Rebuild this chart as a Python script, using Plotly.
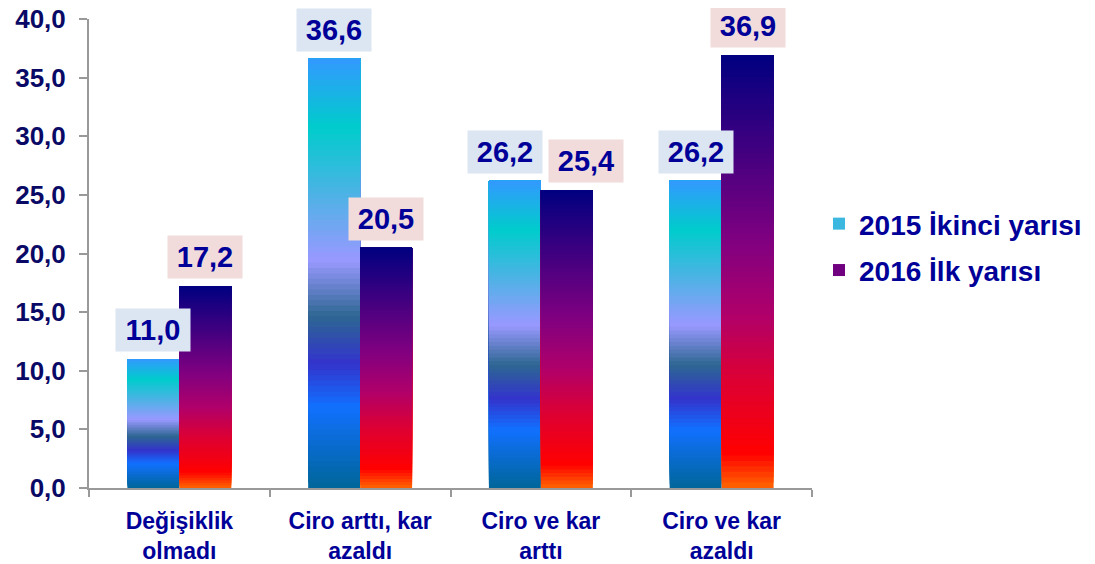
import numpy as np
import plotly.graph_objects as go

categories = ["Değişiklik<br>olmadı", "Ciro arttı, kar<br>azaldı", "Ciro ve kar<br>arttı", "Ciro ve kar<br>azaldı"]
series_names = ["2015 İkinci yarısı", "2016 İlk yarısı"]
values_2015 = [11.0, 36.6, 26.2, 26.2]
values_2016 = [17.2, 20.5, 25.4, 36.9]
y_ticks = [0, 5, 10, 15, 20, 25, 30, 35, 40]

# gradient stops (fraction of bar height from bottom, colour)
grad_2015 = [(0.00, "#006699"), (0.19, "#1170FF"), (0.29, "#3333CC"), (0.40, "#2E6792"),
             (0.53, "#9999FF"), (0.84, "#00CCCC"), (1.00, "#3399FF")]
grad_2016 = [(0.00, "#FF6600"), (0.08, "#FF0000"), (0.25, "#DD0033"), (0.40, "#B0006A"),
             (0.57, "#800080"), (1.00, "#000080")]
label_bg = ["#DCE6F2", "#F2DCDB"]
legend_frac = [0.72, 0.62]
# horizontal nudges of the value labels (px), per series / category
label_xshift = [[0, 0, -10, 0], [0, 0, 19, 0]]

N_SEG = 80
TXT = "#000099"
FONT = "Liberation Sans, Arial"


def hex2rgb(h):
    h = h.lstrip("#")
    return np.array([int(h[i:i + 2], 16) for i in (0, 2, 4)], dtype=float)


def interp(stops, f):
    xs = [s[0] for s in stops]
    cols = np.array([hex2rgb(s[1]) for s in stops])
    r = np.interp(f, xs, cols[:, 0])
    g = np.interp(f, xs, cols[:, 1])
    b = np.interp(f, xs, cols[:, 2])
    return "rgb(%d,%d,%d)" % (round(r), round(g), round(b))


fig = go.Figure()
for si, (vals, grad, name) in enumerate([(values_2015, grad_2015, series_names[0]),
                                          (values_2016, grad_2016, series_names[1])]):
    v = np.array(vals)
    leg_k = int(legend_frac[si] * N_SEG)
    for k in range(N_SEG):
        f = (k + 0.5) / N_SEG
        # each segment spans from its own start up to the bar top; later ones cover the upper part
        fig.add_trace(go.Bar(
            x=categories, y=v * (1 - k / N_SEG), base=v * k / N_SEG,
            offsetgroup=str(si), legendgroup=str(si),
            name=name, showlegend=(k == leg_k),
            marker=dict(color=interp(grad, f), line=dict(width=0)),
            hoverinfo="skip",
        ))

# data labels
bar_w = (1 - 0.425) / 2
for si, vals in enumerate([values_2015, values_2016]):
    off = (-0.5 + si) * bar_w
    for ci, val in enumerate(vals):
        fig.add_annotation(
            x=ci + off, y=val, xref="x", yref="y",
            text=("%.1f" % val).replace(".", ","),
            showarrow=False, yanchor="bottom", yshift=7, xshift=label_xshift[si][ci],
            font=dict(family=FONT, size=29, color=TXT, weight="bold"),
            bgcolor=label_bg[si], borderpad=4, width=66, height=34,
        )

# page body adds an 8px offset, so the figure is 8px smaller and margins shifted
fig.update_layout(
    width=1087, height=556,
    margin=dict(l=81, r=283, t=11, b=76, autoexpand=False),
    paper_bgcolor="white", plot_bgcolor="white",
    barmode="group", bargap=0.425, bargroupgap=0,
    separators=",.",
    font=dict(family=FONT, color=TXT),
    legend=dict(x=1.0097, xanchor="left", y=0.514, yanchor="middle",
                traceorder="grouped", tracegroupgap=7,
                font=dict(size=28, color=TXT, weight="bold")),
)
fig.update_xaxes(
    automargin=False,
    showline=True, linecolor="#999999", linewidth=2,
    ticks="outside", tickson="boundaries", ticklen=7, tickwidth=2, tickcolor="#999999",
    tickfont=dict(size=23, color=TXT, weight="bold"),
    ticklabelstandoff=11,
    showgrid=False, zeroline=False,
)
fig.update_yaxes(
    automargin=False,
    range=[0, 40], tickvals=y_ticks, tickformat=".1f",
    showline=True, linecolor="#999999", linewidth=2,
    ticks="outside", ticklen=8, tickwidth=2, tickcolor="#999999",
    tickfont=dict(size=26, color="#0A0A66", weight="bold"),
    ticklabelstandoff=8, ticklabeloverflow="allow",
    showgrid=False, zeroline=False,
)

fig.write_html("out.html")
